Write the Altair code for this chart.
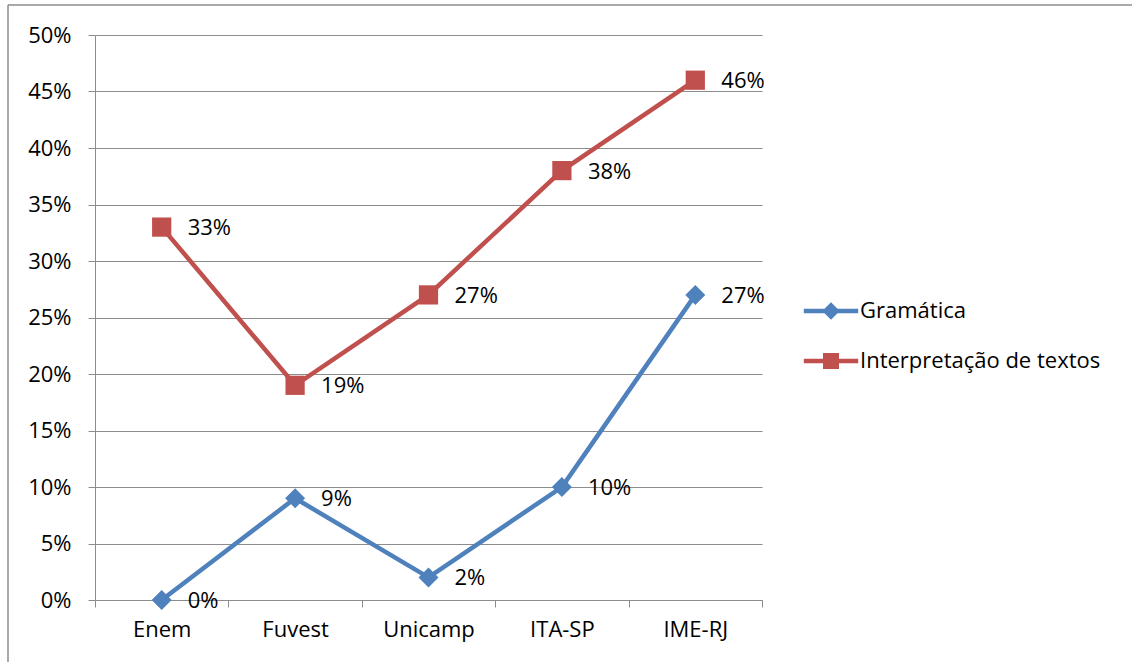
import altair as alt
import pandas as pd

categories = ["Enem", "Fuvest", "Unicamp", "ITA-SP", "IME-RJ"]
series_names = ["Gramática", "Interpretação de textos"]
gramatica = [0.00, 0.09, 0.02, 0.10, 0.27]
interpretacao = [0.33, 0.19, 0.27, 0.38, 0.46]
y_ticks = [0.0, 0.05, 0.10, 0.15, 0.20, 0.25, 0.30, 0.35, 0.40, 0.45, 0.50]
colors = ["#4F81BD", "#C0504D"]
marker_shapes = ["diamond", "square"]
marker_sizes = [400, 370]

rows = []
for c, g, i in zip(categories, gramatica, interpretacao):
    rows.append({"cat": c, "serie": series_names[0], "v": g})
    rows.append({"cat": c, "serie": series_names[1], "v": i})
df = pd.DataFrame(rows)

FONT = "Open Sans"
FS = 22
GRAY = "#8C8C8C"

x_enc = alt.X("cat:N", sort=categories,
              scale=alt.Scale(type="band", paddingInner=0, paddingOuter=0),
              axis=alt.Axis(title=None, labelAngle=0, tickBand="extent", tickSize=7,
                            labelPadding=12, grid=False, domainColor=GRAY, tickColor=GRAY,
                            labelFontSize=FS, labelFont=FONT, labelColor="black"))
y_enc = alt.Y("v:Q", scale=alt.Scale(domain=[0, 0.5], nice=False),
              axis=alt.Axis(title=None, format=".0%", values=y_ticks, tickSize=7,
                            labelPadding=17, grid=True, gridColor=GRAY, domainColor=GRAY,
                            tickColor=GRAY, labelFontSize=FS, labelFont=FONT,
                            labelColor="black"))

base = alt.Chart(df)

series_layers = []
for name, col, shp, sz in zip(series_names, colors, marker_shapes, marker_sizes):
    sub = base.transform_filter(alt.datum.serie == name)
    series_layers.append(sub.mark_line(strokeWidth=4.5, color=col).encode(x=x_enc, y=y_enc))
for name, col, shp, sz in zip(series_names, colors, marker_shapes, marker_sizes):
    sub = base.transform_filter(alt.datum.serie == name)
    series_layers.append(sub.mark_point(filled=True, opacity=1, size=sz, shape=shp, color=col)
                         .encode(x=x_enc, y=y_enc))

labels = base.mark_text(align="left", baseline="middle", dx=26, dy=1, fontSize=FS,
                        font=FONT, color="black").encode(
    x=x_enc, y=y_enc, text=alt.Text("v:Q", format=".0%"))

diamond_path = "M-3.4,-0.28L3.4,-0.28L3.4,0.28L-3.4,0.28Z M0,-1.1L1.1,0L0,1.1L-1.1,0Z"
square_path = "M-3.4,-0.28L3.4,-0.28L3.4,0.28L-3.4,0.28Z M-1,-1L1,-1L1,1L-1,1Z"
leg = alt.Legend(title=None, orient="none", legendX=725, legendY=265, padding=0,
                 labelFontSize=FS, labelFont=FONT, labelColor="black", labelOffset=18,
                 labelLimit=400, rowPadding=28, symbolSize=256, symbolStrokeWidth=0,
                 symbolOpacity=1)
legend_layer = base.mark_point(filled=True, size=256, opacity=1).transform_filter("false").encode(
    color=alt.Color("serie:N", scale=alt.Scale(domain=series_names, range=colors), legend=leg),
    shape=alt.Shape("serie:N", scale=alt.Scale(domain=series_names, range=[diamond_path, square_path]),
                    legend=leg))

frame_data = alt.Data(values=[{"a": 1}])
frame_left = alt.Chart(frame_data).mark_rule(color=GRAY, strokeWidth=1.5).encode(
    x=alt.value(-87), y=alt.value(-30), y2=alt.value(640))
frame_top = alt.Chart(frame_data).mark_rule(color=GRAY, strokeWidth=1.5).encode(
    x=alt.value(-87), x2=alt.value(1037), y=alt.value(-30))

chart = alt.layer(frame_left, frame_top, *series_layers, labels, legend_layer).properties(
    width=667, height=565,
    autosize=alt.AutoSizeParams(type="none"),
    padding={"left": 95, "top": 35, "right": 372, "bottom": 62},
    background="white",
).configure_view(strokeWidth=0)

chart.save("out.html", embed_options={"renderer": "svg", "actions": False})
